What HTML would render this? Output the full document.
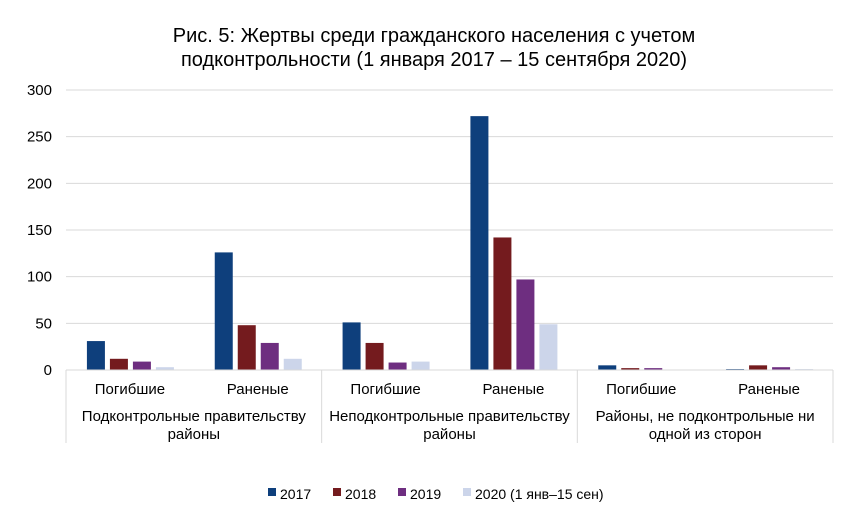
<!DOCTYPE html>
<html><head><meta charset="utf-8"><style>
body{margin:0;background:#fff;font-family:"Liberation Sans",Arial,sans-serif;}
svg text{font-family:"Liberation Sans",Arial,sans-serif;fill:#000;}
</style></head><body>
<svg id="chart" width="852" height="514" xmlns="http://www.w3.org/2000/svg">
<text x="434" y="42" font-size="20" text-anchor="middle">Рис. 5: Жертвы среди гражданского населения с учетом</text>
<text x="434" y="66" font-size="20" text-anchor="middle">подконтрольности (1 января 2017 – 15 сентября 2020)</text>
<g id="grid"></g><g id="bars"></g><g id="axis"></g>
<g font-size="14">
<rect x="268" y="488" width="8" height="8" fill="#0e3f7c"/><text x="280" y="499">2017</text>
<rect x="333" y="488" width="8" height="8" fill="#741b1e"/><text x="345" y="499">2018</text>
<rect x="398" y="488" width="8" height="8" fill="#6e2e80"/><text x="410" y="499">2019</text>
<rect x="463" y="488" width="8" height="8" fill="#ccd5ea"/><text x="475" y="499">2020 (1 янв–15 сен)</text>
</g>
</svg>
<script>
const categories=["Погибшие","Раненые","Погибшие","Раненые","Погибшие","Раненые"];
const groups=[["Подконтрольные правительству","районы"],["Неподконтрольные правительству","районы"],["Районы, не подконтрольные ни","одной из сторон"]];
const s2017=[31,126,51,272,5,1];
const s2018=[12,48,29,142,2,5];
const s2019=[9,29,8,97,2,3];
const s2020=[3,12,9,49,0,1];
const ticks=[0,50,100,150,200,250,300];
const series=[s2017,s2018,s2019,s2020];
const colors=["#0e3f7c","#741b1e","#6e2e80","#ccd5ea"];
const NS="http://www.w3.org/2000/svg";
const L=66,R=833,Y0=370,Y1=90;
const y=v=>Y0-(v/300)*(Y0-Y1);
const cw=(R-L)/categories.length;
function mk(t,a,p,txt){const e=document.createElementNS(NS,t);for(const k in a)e.setAttribute(k,a[k]);if(txt!==undefined)e.textContent=txt;p.appendChild(e);return e;}
const grid=document.getElementById('grid'),bars=document.getElementById('bars'),axis=document.getElementById('axis');
ticks.forEach(t=>{
 if(t>0){const g=mk('line',{x1:L,x2:R,y1:y(t),y2:y(t),stroke:'#d9d9d9','stroke-width':1},grid);
 
 }
 const tx=mk('text',{x:52,y:y(t)+5,'font-size':15,'text-anchor':'end'},axis,String(t));
 
 
});
categories.forEach((c,i)=>{
 const cx=L+cw*(i+0.5);
 series.forEach((s,j)=>{
  const x=cx-43+j*23;
  const r=mk('rect',{x:x,y:y(s[i]),width:18,height:Y0-y(s[i]),fill:colors[j]},bars);
  
  
 });
 const t=mk('text',{x:cx,y:394,'font-size':15,'text-anchor':'middle'},axis,c);
 
 
});
const ax=mk('line',{x1:L,x2:R,y1:Y0,y2:Y0,stroke:'#d9d9d9'},axis);


for(let k=0;k<=3;k++){const x=L+k*cw*2;
 const d=mk('line',{x1:x,x2:x,y1:Y0,y2:443,stroke:'#d9d9d9'},axis);
 
 }
groups.forEach((g,k)=>{const cx=L+cw*(2*k+1);
 g.forEach((line,n)=>{const t=mk('text',{x:cx,y:421+n*18,'font-size':15,'text-anchor':'middle'},axis,line);
 
 });});
</script>
</body></html>
